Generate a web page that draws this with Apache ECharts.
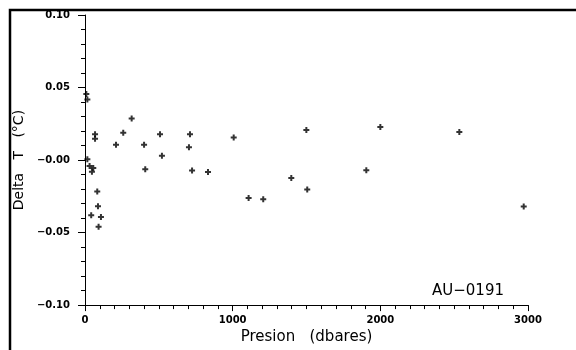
<!DOCTYPE html>
<html>
<head>
<meta charset="utf-8">
<script src="https://cdn.jsdelivr.net/npm/echarts@6/dist/echarts.min.js"></script>
<style>html,body{margin:0;padding:0;background:#fff}#c{width:576px;height:350px}</style>
</head>
<body>
<div id="c"></div>
<script>
const pressure = [9, 16, 68, 68, 16, 31, 56, 47, 83, 88, 42, 108, 92, 210, 259, 316, 400, 408, 508, 521, 704, 711, 725, 833, 1007, 1108, 1207, 1397, 1499, 1505, 1905, 2000, 2535, 2971];
const deltaT = [0.0455, 0.0417, 0.0178, 0.0146, 0.0005, -0.0041, -0.0054, -0.0081, -0.0216, -0.0318, -0.0381, -0.0392, -0.0459, 0.0106, 0.0189, 0.0286, 0.0106, -0.0063, 0.0178, 0.0029, 0.0088, 0.0178, -0.0072, -0.0083, 0.0155, -0.0262, -0.0270, -0.0124, 0.0208, -0.0203, -0.0070, 0.0228, 0.0194, -0.0320];
const yTickLabels = ['\u22120.10', '\u22120.05', '\u22120.00', '0.05', '0.10'];
const xTickLabels = ['0', '1000', '2000', '3000'];

const chart = echarts.init(document.getElementById('c'), null, {renderer: 'canvas'});
const tickFont = {fontFamily: 'DejaVu Sans', fontWeight: 'bold', fontSize: 10, color: '#000'};
chart.setOption({
  animation: false,
  backgroundColor: '#fff',
  grid: {left: 85, right: 48, top: 15, bottom: 39, containLabel: false},
  xAxis: {
    type: 'value', min: 0, max: 3000, interval: 1000,
    name: 'Presion   (dbares)', nameLocation: 'middle', nameGap: 22,
    nameTextStyle: {fontFamily: 'DejaVu Sans', fontSize: 15, color: '#000'},
    axisLine: {show: true, onZero: false, lineStyle: {color: '#000', width: 1}},
    axisTick: {show: true, inside: false, length: 6, lineStyle: {color: '#000', width: 1}},
    minorTick: {show: true, splitNumber: 10, length: 4, lineStyle: {color: '#000', width: 1}},
    splitLine: {show: false},
    axisLabel: Object.assign({margin: 10, formatter: function (v) { return xTickLabels[Math.round(v / 1000)]; }}, tickFont)
  },
  yAxis: {
    type: 'value', min: -0.1, max: 0.1, interval: 0.05,
    name: 'Delta   T   (\u00b0C)', nameLocation: 'middle', nameGap: 51,
    nameTextStyle: {fontFamily: 'DejaVu Sans', fontSize: 14, color: '#000'},
    axisLine: {show: true, onZero: false, lineStyle: {color: '#000', width: 1}},
    axisTick: {show: true, inside: false, length: 7, lineStyle: {color: '#000', width: 1}},
    minorTick: {show: true, splitNumber: 5, length: 4, lineStyle: {color: '#000', width: 1}},
    splitLine: {show: false},
    axisLabel: Object.assign({margin: 15, formatter: function (v) { return yTickLabels[Math.round(v * 20) + 2]; }}, tickFont)
  },
  series: [{
    type: 'scatter',
    data: pressure.map(function (p, i) { return [p, deltaT[i]]; }),
    symbol: 'path://M2,0h2v2h2v2h-2v2h-2v-2h-2v-2h2z',
    symbolSize: 6,
    itemStyle: {color: '#000'}
  }],
  graphic: [
    {type: 'rect', shape: {x: 10, y: 10, width: 620, height: 400}, style: {fill: 'none', stroke: '#000', lineWidth: 2.5}, silent: true},
    {type: 'text', left: 432, top: 284, style: {text: 'AU\u22120191', fontFamily: 'DejaVu Sans', fontSize: 15, fill: '#000'}}
  ]
});
</script>
</body>
</html>
